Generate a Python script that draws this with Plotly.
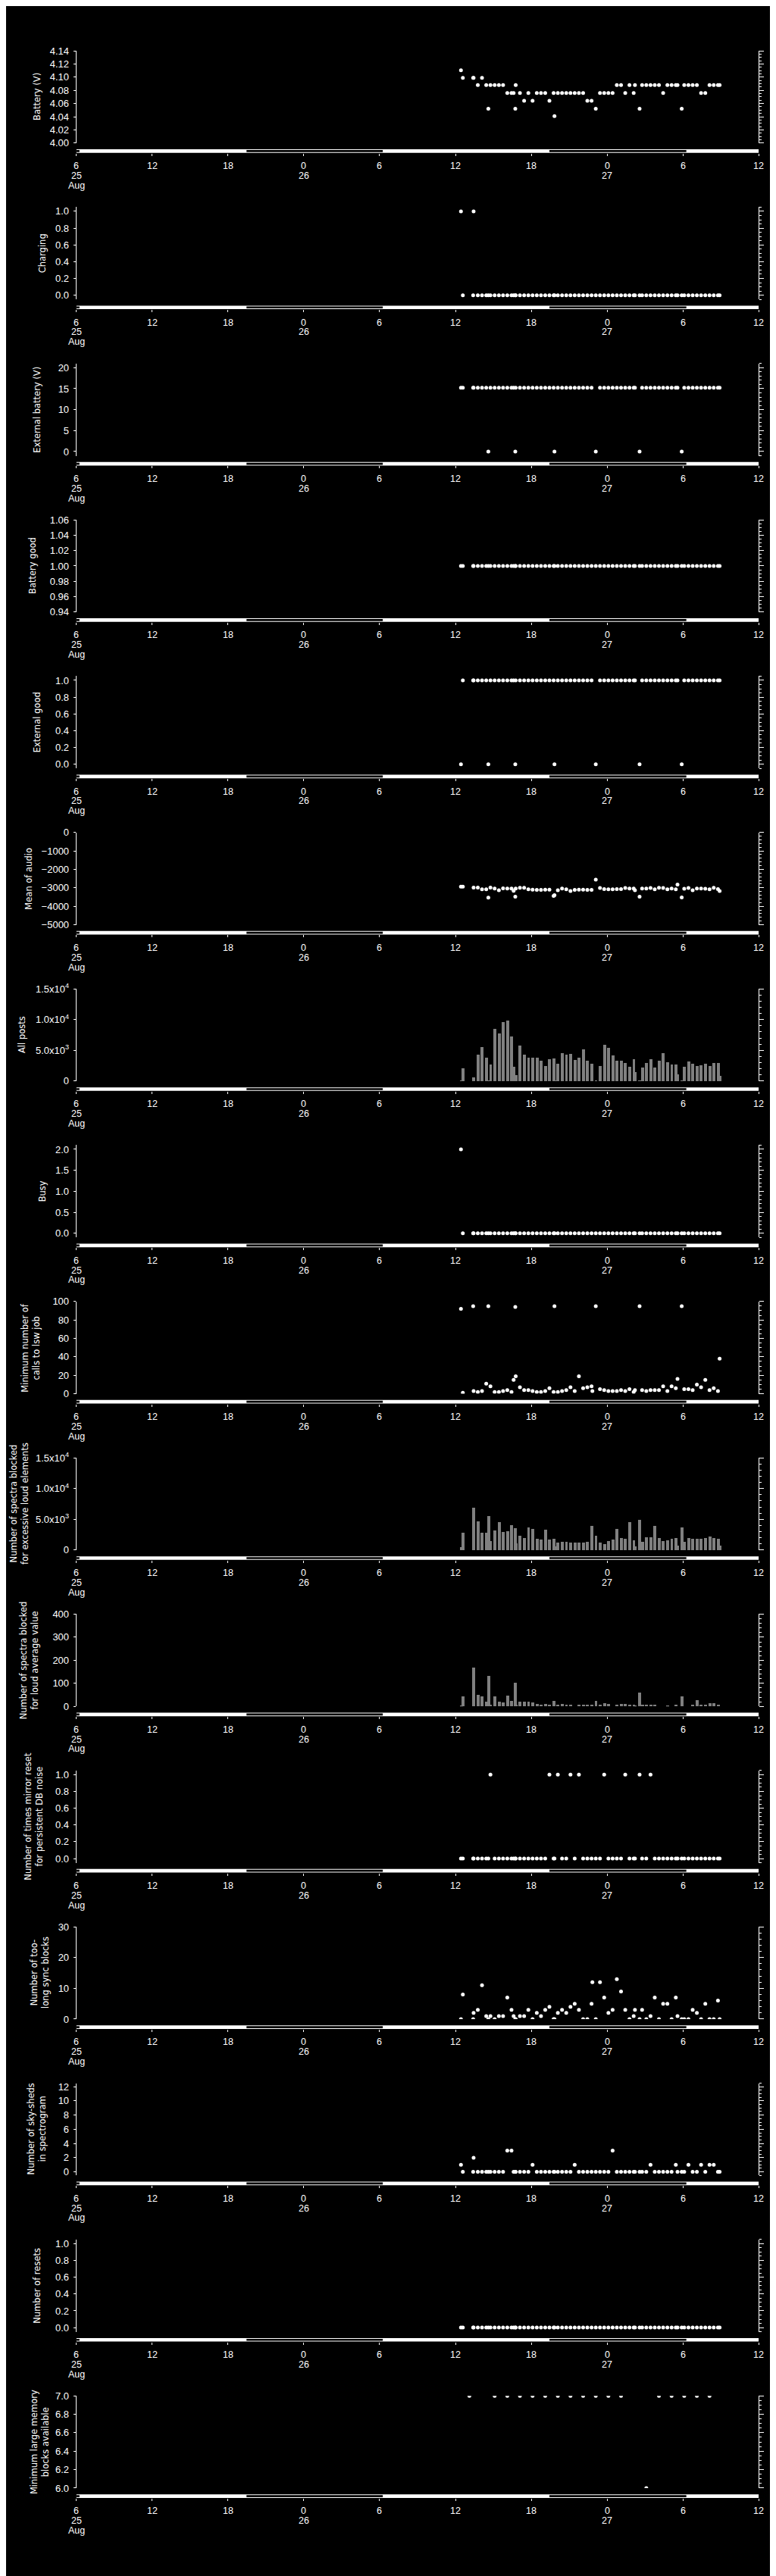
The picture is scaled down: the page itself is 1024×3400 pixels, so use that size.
import plotly.graph_objects as go
import pandas as pd

# ---------------- data ----------------
BASE = pd.Timestamp("2025-08-26 12:26")
# minutes after BASE for each status record
rec_minutes = [0, 9, 58, 60, 80, 100, 120, 130, 140, 160,
               180, 200, 220, 240, 250, 258, 260, 280, 300, 320,
               340, 360, 380, 400, 420, 440, 444, 460, 480, 500,
               520, 540, 560, 580, 600, 620, 640, 660, 680, 700,
               720, 740, 760, 780, 800, 820, 826, 848, 860, 880,
               900, 920, 940, 960, 980, 1000, 1020, 1028, 1048, 1060,
               1080, 1100, 1120, 1140, 1160, 1180, 1200, 1220, 1228, 624]

battery_v = [4.1106, 4.0991, 4.0991, 4.0991, 4.0881, 4.0991, 4.0881, 4.0522, 4.0881, 4.0881,
             4.0881, 4.0881, 4.0759, 4.0759, 4.0759, 4.0522, 4.0881, 4.0759, 4.0641, 4.0759,
             4.0641, 4.0759, 4.0759, 4.0759, 4.0641, 4.0759, 4.0408, 4.0759, 4.0759, 4.0759,
             4.0759, 4.0759, 4.0759, 4.0759, 4.0641, 4.0641, 4.0522, 4.0759, 4.0759, 4.0759,
             4.0759, 4.0881, 4.0881, 4.0759, 4.0881, 4.0759, 4.0881, 4.0522, 4.0881, 4.0881,
             4.0881, 4.0881, 4.0881, 4.0759, 4.0881, 4.0881, 4.0881, 4.0881, 4.0522, 4.0881,
             4.0881, 4.0881, 4.0881, 4.0759, 4.0759, 4.0881, 4.0881, 4.0881, 4.0881, None]

charging = [1, 0, 0, 1, 0, 0, 0, 0, 0, 0,
            0, 0, 0, 0, 0, 0, 0, 0, 0, 0,
            0, 0, 0, 0, 0, 0, 0, 0, 0, 0,
            0, 0, 0, 0, 0, 0, 0, 0, 0, 0,
            0, 0, 0, 0, 0, 0, 0, 0, 0, 0,
            0, 0, 0, 0, 0, 0, 0, 0, 0, 0,
            0, 0, 0, 0, 0, 0, 0, 0, 0, None]

ext_battery_v = [15.2, 15.2, 15.2, 15.2, 15.2, 15.2, 15.2, 0, 15.2, 15.2,
                 15.2, 15.2, 15.2, 15.2, 15.2, 0, 15.2, 15.2, 15.2, 15.2,
                 15.2, 15.2, 15.2, 15.2, 15.2, 15.2, 0, 15.2, 15.2, 15.2,
                 15.2, 15.2, 15.2, 15.2, 15.2, 15.2, 0, 15.2, 15.2, 15.2,
                 15.2, 15.2, 15.2, 15.2, 15.2, 15.2, 15.2, 0, 15.2, 15.2,
                 15.2, 15.2, 15.2, 15.2, 15.2, 15.2, 15.2, 15.2, 0, 15.2,
                 15.2, 15.2, 15.2, 15.2, 15.2, 15.2, 15.2, 15.2, 15.2, None]

battery_good = [1, 1, 1, 1, 1, 1, 1, 1, 1, 1,
                1, 1, 1, 1, 1, 1, 1, 1, 1, 1,
                1, 1, 1, 1, 1, 1, 1, 1, 1, 1,
                1, 1, 1, 1, 1, 1, 1, 1, 1, 1,
                1, 1, 1, 1, 1, 1, 1, 1, 1, 1,
                1, 1, 1, 1, 1, 1, 1, 1, 1, 1,
                1, 1, 1, 1, 1, 1, 1, 1, 1, None]

external_good = [0, 1, 1, 1, 1, 1, 1, 0, 1, 1,
                 1, 1, 1, 1, 1, 0, 1, 1, 1, 1,
                 1, 1, 1, 1, 1, 1, 0, 1, 1, 1,
                 1, 1, 1, 1, 1, 1, 0, 1, 1, 1,
                 1, 1, 1, 1, 1, 1, 1, 0, 1, 1,
                 1, 1, 1, 1, 1, 1, 1, 1, 0, 1,
                 1, 1, 1, 1, 1, 1, 1, 1, 1, None]

audio_mean = [-2930, -2930, None, -2985, -2985, -3080, -3080, -3530, -2985, -3040,
              -3135, -3025, -3040, -3040, -3160, -3475, -3040, -2995, -2995, -3080,
              -3095, -3105, -3105, -3095, -3095, -3435, -3400, -3135, -3040, -3080,
              -3175, -3105, -3095, -3095, -3105, -3105, -2560, -3010, -3065, -3080,
              -3080, -3065, -3065, -3010, -3040, -3040, -3135, -3475, -3040, -3040,
              -3010, -3080, -2995, -3010, -3080, -3040, -3080, -2820, -3515, -3050,
              -3010, -3135, -3040, -3040, -3050, -3080, -2995, -3065, -3175, None]

all_posts = [-100, 2070, -100, 610, 4270, 5490, 3780, -100, 2680, 8415,
             7680, 9630, 9880, 7195, 2320, -100, 975, 5730, 4270, 3780,
             3780, 3780, 3290, 2440, 3540, 3660, -100, 2800, 4510, 4270,
             4390, 3415, 3780, 5120, 3290, 2800, -100, 2440, 5850, 5370,
             4150, 3290, 3290, 2930, 2320, 3540, 1460, -100, 2200, 2930,
             3540, 2200, 3290, 4510, 3050, 2680, 2680, 1100, -100, 2320,
             3170, 2800, 2440, 2560, 2800, 2440, 2930, 2930, 850, None]

busy = [2, 0, 0, 0, 0, 0, 0, 0, 0, 0,
        0, 0, 0, 0, 0, 0, 0, 0, 0, 0,
        0, 0, 0, 0, 0, 0, 0, 0, 0, 0,
        0, 0, 0, 0, 0, 0, 0, 0, 0, 0,
        0, 0, 0, 0, 0, 0, 0, 0, 0, 0,
        0, 0, 0, 0, 0, 0, 0, 0, 0, 0,
        0, 0, 0, 0, 0, 0, 0, 0, 0, None]

min_calls = [92, 1, 95, 3, 2, 3, 11, 95, 8, 2,
             2, 3, 4, 2, 15, 94, 19, 7, 4, 4,
             3, 2, 2, 3, 6, 2, 95, 2, 3, 4,
             7, 3, 19, 6, 7, 8, 95, 5, 4, 3,
             3, 3, 4, 3, 5, 2, 4, 95, 4, 3,
             4, 4, 4, 8, 3, 8, 6, 16, 95, 5,
             5, 4, 10, 7, 15, 4, 6, 3, 38, 3]

spectra_loud_elements = [410, 2746, 6926, 1640, 4713, 2746, 2746, 5573, 1393, 3237,
                         4590, 2992, 3114, 4098, None, 3606, 1025, 2254, 1885, 3729,
                         3483, 1762, 1639, 3360, 1639, 1762, 533, 1147, 1270, 1270,
                         1147, 1147, 1147, 1147, 1270, 3975, 2254, 1147, 902, 1393,
                         1639, 3483, 1885, 1762, 4590, 1516, 533, 4959, 1270, 2008,
                         2008, 3975, 1885, 1393, 1516, 1762, 1885, 656, 3729, 1270,
                         1885, 1762, 1762, 1762, 1885, 2131, 1885, 1762, 656, None]

spectra_loud_average = [-3, 43, 167, None, 49, 43, 20, 131, 7, 43,
                        20, 16, 46, 23, None, 102, 7, 20, 20, 20,
                        16, 10, 7, 10, 3, 23, None, 7, 10, 3,
                        3, None, 3, 3, 3, 3, 23, 7, 13, 10,
                        None, 3, 10, 10, 7, 3, -2, 59, 7, 7,
                        7, 3, None, None, -2, None, 3, None, 43, None,
                        None, 3, 26, 3, 3, 13, 13, 7, None, None]

mirror_resets = [0, 0, 0, 0, 0, 0, 0, 0, 1, 0,
                 0, 0, 0, 0, 0, 0, 0, 0, 0, 0,
                 0, 0, 0, 0, 1, 0, 0, 1, 0, 0,
                 1, 0, 1, 0, 0, 0, 0, 0, 1, 0,
                 0, 0, 0, 1, 0, 0, 0, 1, 0, 0,
                 1, 0, 0, 0, 0, 0, 0, 0, 0, 0,
                 0, 0, 0, 0, 0, 0, 0, 0, 0, None]

too_long_sync = [0, 8, 0, 2, 3, 11, 1, 0, 1, 0,
                 1, 1, 7, 3, 1, 0, 0, 1, 1, 3,
                 0, 2, 1, 3, 4, 0, 0, 2, 3, 2,
                 4, 5, 3, 0, 0, 5, 0, 12, 7, 2,
                 3, 13, 9, 3, 0, 1, 3, 0, 3, 0,
                 1, 7, 0, 5, 5, 0, 7, 1, 0, 0,
                 0, 3, 2, 0, 5, 0, 0, 6, 0, 12]

sky_sheds = [1, 0, 0, 2, 0, 0, 0, 0, 0, 0,
             0, 0, 3, 3, 0, 0, 0, 0, 0, 0,
             1, 0, 0, 0, 0, 0, 0, 0, 0, 0,
             0, 1, 0, 0, 0, 0, 0, 0, 0, 0,
             3, 0, 0, 0, 0, 0, 0, 0, 0, 0,
             1, 0, 0, 0, 0, 0, 1, 0, 0, 0,
             1, 0, 0, 1, 0, 1, 1, 0, 0, None]

resets = [0, 0, 0, 0, 0, 0, 0, 0, 0, 0,
          0, 0, 0, 0, 0, 0, 0, 0, 0, 0,
          0, 0, 0, 0, 0, 0, 0, 0, 0, 0,
          0, 0, 0, 0, 0, 0, 0, 0, 0, 0,
          0, 0, 0, 0, 0, 0, 0, 0, 0, 0,
          0, 0, 0, 0, 0, 0, 0, 0, 0, 0,
          0, 0, 0, 0, 0, 0, 0, 0, 0, None]

# hourly statistic (own time stamps)
mem_times = ["2025-08-26 13:06", "2025-08-26 15:06", "2025-08-26 16:06", "2025-08-26 17:06",
             "2025-08-26 18:06", "2025-08-26 19:06", "2025-08-26 20:06", "2025-08-26 21:06",
             "2025-08-26 22:06", "2025-08-26 23:06", "2025-08-27 00:06", "2025-08-27 01:06",
             "2025-08-27 03:06", "2025-08-27 04:06", "2025-08-27 05:06", "2025-08-27 06:06",
             "2025-08-27 07:06", "2025-08-27 08:06"]
min_large_blocks = [7, 7, 7, 7, 7, 7, 7, 7, 7, 7, 7, 7, 6, 7, 7, 7, 7, 7]

# day / night (white = day, black = night)
night_start = ["2025-08-25 06:00", "2025-08-25 19:28", "2025-08-26 19:26"]
night_end = ["2025-08-25 06:15", "2025-08-26 06:15", "2025-08-27 06:16"]

X_START, X_END = "2025-08-25 06:00", "2025-08-27 12:00"
hour_ticks = ["2025-08-25 06:00", "2025-08-25 12:00", "2025-08-25 18:00", "2025-08-26 00:00",
              "2025-08-26 06:00", "2025-08-26 12:00", "2025-08-26 18:00", "2025-08-27 00:00",
              "2025-08-27 06:00", "2025-08-27 12:00"]
hour_labels = ["6", "12", "18", "0", "6", "12", "18", "0", "6", "12"]
day_ticks = ["2025-08-25 06:00", "2025-08-26 00:00", "2025-08-27 00:00"]
day_labels = ["25", "26", "27"]
month_tick, month_label = "2025-08-25 06:00", "Aug"

panels = [
    dict(title="Battery (V)", y=battery_v, kind="pts", rng=[4.00, 4.14],
         tv=[4.00, 4.02, 4.04, 4.06, 4.08, 4.10, 4.12, 4.14],
         tt=["4.00", "4.02", "4.04", "4.06", "4.08", "4.10", "4.12", "4.14"], minor=0.005, tx=41),
    dict(title="Charging", y=charging, kind="pts", rng=[-0.05, 1.05],
         tv=[0, 0.2, 0.4, 0.6, 0.8, 1.0], tt=["0.0", "0.2", "0.4", "0.6", "0.8", "1.0"], minor=0.05, tx=48),
    dict(title="External battery (V)", y=ext_battery_v, kind="pts", rng=[-1, 21],
         tv=[0, 5, 10, 15, 20], tt=["0", "5", "10", "15", "20"], minor=1, tx=41),
    dict(title="Battery good", y=battery_good, kind="pts", rng=[0.94, 1.06],
         tv=[0.94, 0.96, 0.98, 1.00, 1.02, 1.04, 1.06],
         tt=["0.94", "0.96", "0.98", "1.00", "1.02", "1.04", "1.06"], minor=0.005, tx=35),
    dict(title="External good", y=external_good, kind="pts", rng=[-0.05, 1.05],
         tv=[0, 0.2, 0.4, 0.6, 0.8, 1.0], tt=["0.0", "0.2", "0.4", "0.6", "0.8", "1.0"], minor=0.05, tx=41),
    dict(title="Mean of audio", y=audio_mean, kind="pts", rng=[-5000, 0],
         tv=[-5000, -4000, -3000, -2000, -1000, 0],
         tt=["\u22125000", "\u22124000", "\u22123000", "\u22122000", "\u22121000", "0"], minor=200, tx=30),
    dict(title="All posts", y=all_posts, kind="bar", rng=[0, 15000],
         tv=[0, 5000, 10000, 15000],
         tt=["0", "5.0x10<sup>3</sup>", "1.0x10<sup>4</sup>", "1.5x10<sup>4</sup>"], minor=1000, tx=21),
    dict(title="Busy", y=busy, kind="pts", rng=[-0.1, 2.1],
         tv=[0, 0.5, 1.0, 1.5, 2.0], tt=["0.0", "0.5", "1.0", "1.5", "2.0"], minor=0.1, tx=48),
    dict(title="Minimum number of<br>calls to lsw job", y=min_calls, kind="pts", rng=[0, 100],
         tv=[0, 20, 40, 60, 80, 100], tt=["0", "20", "40", "60", "80", "100"], minor=5, tx=33),
    dict(title="Number of spectra blocked<br>for excessive loud elements", y=spectra_loud_elements,
         kind="bar", rng=[0, 15000], tv=[0, 5000, 10000, 15000],
         tt=["0", "5.0x10<sup>3</sup>", "1.0x10<sup>4</sup>", "1.5x10<sup>4</sup>"], minor=1000, tx=17),
    dict(title="Number of spectra blocked<br>for loud average value", y=spectra_loud_average,
         kind="bar", rng=[0, 400], tv=[0, 100, 200, 300, 400],
         tt=["0", "100", "200", "300", "400"], minor=20, tx=30),
    dict(title="Number of times mirror reset<br>for persistent DB noise", y=mirror_resets, kind="pts",
         rng=[-0.05, 1.05], tv=[0, 0.2, 0.4, 0.6, 0.8, 1.0],
         tt=["0.0", "0.2", "0.4", "0.6", "0.8", "1.0"], minor=0.05, tx=37),
    dict(title="Number of too-<br>long sync blocks", y=too_long_sync, kind="pts", rng=[0, 30],
         tv=[0, 10, 20, 30], tt=["0", "10", "20", "30"], minor=2, tx=44),
    dict(title="Number of sky-sheds<br>in spectrogram", y=sky_sheds, kind="pts", rng=[-0.5, 12.5],
         tv=[0, 2, 4, 6, 8, 10, 12], tt=["0", "2", "4", "6", "8", "10", "12"], minor=0.5, tx=40),
    dict(title="Number of resets", y=resets, kind="pts", rng=[-0.05, 1.05],
         tv=[0, 0.2, 0.4, 0.6, 0.8, 1.0], tt=["0.0", "0.2", "0.4", "0.6", "0.8", "1.0"], minor=0.05, tx=41),
    dict(title="Minimum large memory<br>blocks available", y=min_large_blocks, x=mem_times, kind="pts",
         rng=[6.0, 7.0], tv=[6.0, 6.2, 6.4, 6.6, 6.8, 7.0],
         tt=["6.0", "6.2", "6.4", "6.6", "6.8", "7.0"], minor=0.05, tx=44),
]

# ---------------- layout geometry (pixels) ----------------
W, H = 1024, 3400
X_LEFT, X_RIGHT = 92.7, 993.3
PITCH = 207.38
FRAME_TOP, FRAME_BOT = 50.3, 172.7
BAR_TOP, BAR_BOT = 181.0, 185.7
HOUR_Y, DAY_Y, MON_Y = 203.3, 216.2, 229.0
WHITE = "#ffffff"
BAR_COLOR = "#808080"
TICK_FONT = dict(family="Liberation Sans", size=13, color=WHITE)
XLAB_FONT = dict(family="Liberation Sans", size=12.5, color=WHITE)
TITLE_FONT = dict(family="DejaVu Sans", size=11.5, color=WHITE)


def py(p):
    return 1 - p / H


def px(p):
    return p / W


times = [BASE + pd.Timedelta(minutes=m) for m in rec_minutes]

fig = go.Figure()
layout = dict(width=W, height=H, margin=dict(l=0, r=0, t=0, b=0), autosize=False,
              paper_bgcolor="black", plot_bgcolor="black", showlegend=False,
              barmode="overlay", bargap=0)
shapes, annotations = [], []

for i, p in enumerate(panels):
    n = i + 1
    nr = i + 17
    xs = "x" if n == 1 else f"x{n}"
    ys = "y" if n == 1 else f"y{n}"
    yr = f"y{nr}"
    off = PITCH * i
    xdata = p.get("x", times)
    if p["kind"] == "bar":
        fig.add_trace(go.Bar(x=xdata, y=p["y"], xaxis=xs, yaxis=ys, width=14 * 60 * 1000,
                             marker=dict(color=BAR_COLOR, line=dict(width=0)), hoverinfo="skip"))
    else:
        fig.add_trace(go.Scatter(x=xdata, y=p["y"], xaxis=xs, yaxis=ys, mode="markers",
                                 marker=dict(color=WHITE, size=5, line=dict(width=0)),
                                 hoverinfo="skip", cliponaxis=True))
    # dummy trace for the right-hand axis
    fig.add_trace(go.Scatter(x=[xdata[0]], y=[None], xaxis=xs, yaxis=yr, mode="markers",
                             hoverinfo="skip"))

    layout[f"xaxis{n}"] = dict(domain=[px(X_LEFT), px(X_RIGHT)], type="date", range=[X_START, X_END],
                               anchor="free", position=py(BAR_BOT + off), showline=False,
                               showgrid=False, zeroline=False, ticks="outside", ticklen=3,
                               tickwidth=1, tickcolor=WHITE, tickmode="array", tickvals=hour_ticks,
                               showticklabels=False, fixedrange=True)
    dom = [py(FRAME_BOT + off), py(FRAME_TOP + off)]
    layout[f"yaxis{n}"] = dict(domain=dom, anchor=xs, range=p["rng"], showline=True, linecolor=WHITE,
                               linewidth=1, ticks="outside", ticklen=3, tickwidth=1, tickcolor=WHITE,
                               tickmode="array", tickvals=p["tv"], ticktext=p["tt"], tickfont=TICK_FONT,
                               showgrid=False, zeroline=False, fixedrange=True, ticklabelstandoff=3)
    layout[f"yaxis{nr}"] = dict(overlaying=ys, side="right", anchor=xs, range=p["rng"], showline=True,
                                linecolor=WHITE, linewidth=1, ticks="outside", ticklen=6, tickwidth=1,
                                tickcolor=WHITE, tickmode="array", tickvals=p["tv"],
                                showticklabels=False, showgrid=False, zeroline=False, fixedrange=True,
                                minor=dict(ticks="outside", ticklen=3, tickwidth=1, tickcolor=WHITE,
                                           dtick=p["minor"], tick0=p["rng"][0], showgrid=False))

    # day / night bar
    shapes.append(dict(type="rect", xref=xs, yref="paper", x0=X_START, x1=X_END,
                       y0=py(BAR_BOT + off), y1=py(BAR_TOP + off), fillcolor=WHITE,
                       line=dict(width=0), layer="above"))
    for s, e in zip(night_start, night_end):
        shapes.append(dict(type="rect", xref=xs, yref="paper", x0=s, x1=e,
                           y0=py(BAR_BOT - 1 + off), y1=py(BAR_TOP + 1 + off), fillcolor="black",
                           line=dict(width=0), layer="above"))

    # x labels
    for t, lab in zip(hour_ticks, hour_labels):
        annotations.append(dict(text=lab, x=t, xref=xs, y=py(HOUR_Y + off), yref="paper",
                                showarrow=False, font=XLAB_FONT, xanchor="center", yanchor="middle"))
    for t, lab in zip(day_ticks, day_labels):
        annotations.append(dict(text=lab, x=t, xref=xs, y=py(DAY_Y + off), yref="paper",
                                showarrow=False, font=XLAB_FONT, xanchor="center", yanchor="middle"))
    annotations.append(dict(text=month_label, x=month_tick, xref=xs, y=py(MON_Y + off), yref="paper",
                            showarrow=False, font=XLAB_FONT, xanchor="center", yanchor="middle"))
    # y title
    annotations.append(dict(text=p["title"], x=px(p["tx"]), xref="paper",
                            y=py((FRAME_TOP + FRAME_BOT) / 2 + off), yref="paper", textangle=-90,
                            showarrow=False, font=TITLE_FONT, xanchor="center", yanchor="middle"))

layout["shapes"] = shapes
layout["annotations"] = annotations
fig.update_layout(**layout)
fig.write_html("out.html")
